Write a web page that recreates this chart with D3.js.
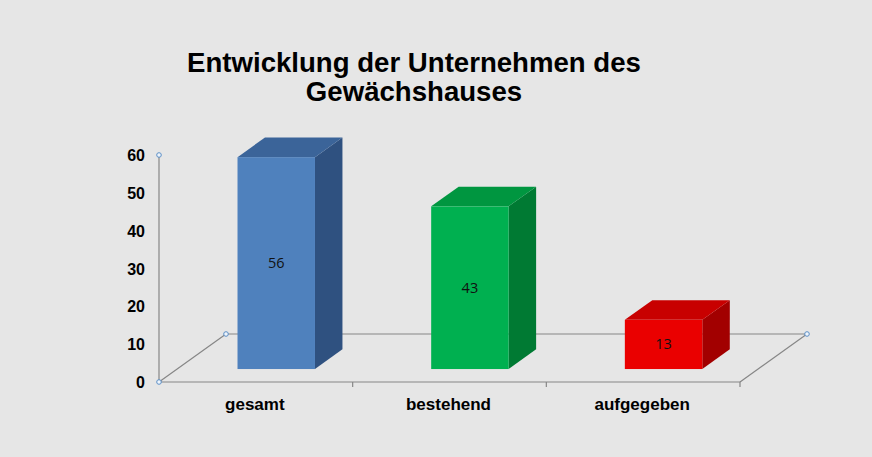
<!DOCTYPE html>
<html>
<head>
<meta charset="utf-8">
<script src="https://cdn.jsdelivr.net/npm/d3@7"></script>
<style>
  html, body { margin: 0; padding: 0; background: #e6e6e6; }
</style>
</head>
<body>
<div id="chart"></div>
<script>
// chart data
var categories = ["gesamt", "bestehend", "aufgegeben"];
var values = [56, 43, 13];
var tickValues = [0, 10, 20, 30, 40, 50, 60];
var titleLines = ["Entwicklung der Unternehmen des", "Gewächshauses"];
var faceColors = [
    {front: "#4f81bd", top: "#3b6499", side: "#2f5180"},
    {front: "#00b050", top: "#009640", side: "#007a33"},
    {front: "#ea0000", top: "#c80000", side: "#a20000"}
];

var width = 872, height = 457;
var svg = d3.select("#chart").append("svg")
    .attr("width", width)
    .attr("height", height)
    .style("display", "block");

svg.append("rect").attr("width", width).attr("height", height).attr("fill", "#e6e6e6");

// title
svg.append("g").selectAll("text")
    .data(titleLines)
    .enter().append("text")
    .attr("x", 414)
    .attr("y", function(d, i) { return 72 + i * 28.5; })
    .attr("text-anchor", "middle")
    .attr("font-family", "'Liberation Sans', Arial, sans-serif")
    .attr("font-weight", "bold")
    .attr("font-size", 27.6)
    .attr("fill", "#000")
    .text(function(d) { return d; });

// oblique 3D projection: z from 0 (front) to 1 (back wall)
var depthX = 67, depthY = -48;
var x = d3.scaleBand().domain(categories).range([159, 740])
    .paddingInner(0.6).paddingOuter(0.3).align(0.52);
var y = d3.scaleLinear().domain([0, 60]).range([382, 155]);
function px(xv, z) { return xv + z * depthX; }
function py(v, z) { return y(v) + z * depthY; }

var lineColor = "#868686";
var x0 = x.range()[0], x1 = x.range()[1];
var step = (x1 - x0) / categories.length;

// back floor edge
svg.append("line")
    .attr("x1", px(x0, 1)).attr("y1", py(0, 1))
    .attr("x2", px(x1, 1)).attr("y2", py(0, 1))
    .attr("stroke", lineColor).attr("stroke-width", 1.2);
// side floor edges
[x0, x1].forEach(function(xv) {
    svg.append("line")
        .attr("x1", px(xv, 0)).attr("y1", py(0, 0))
        .attr("x2", px(xv, 1)).attr("y2", py(0, 1))
        .attr("stroke", lineColor).attr("stroke-width", 1.2);
});
// front floor edge
svg.append("line")
    .attr("x1", x0).attr("y1", y(0))
    .attr("x2", x1).attr("y2", y(0))
    .attr("stroke", lineColor).attr("stroke-width", 1.2);
// category boundary ticks
svg.append("g").selectAll("line")
    .data(d3.range(1, categories.length + 1))
    .enter().append("line")
    .attr("x1", function(i) { return x0 + i * step; })
    .attr("x2", function(i) { return x0 + i * step; })
    .attr("y1", y(0)).attr("y2", y(0) + 5)
    .attr("stroke", lineColor).attr("stroke-width", 1.2);

// value axis
svg.append("line")
    .attr("x1", x0).attr("y1", y(0))
    .attr("x2", x0).attr("y2", y(60))
    .attr("stroke", lineColor).attr("stroke-width", 1.2);
svg.append("g").selectAll("text")
    .data(tickValues)
    .enter().append("text")
    .attr("x", 145)
    .attr("y", function(d) { return y(d) + 6; })
    .attr("text-anchor", "end")
    .attr("font-family", "'Liberation Sans', Arial, sans-serif")
    .attr("font-weight", "bold")
    .attr("font-size", 16)
    .attr("fill", "#000")
    .text(function(d) { return d; });

// bars
var zFront = 0.27, zBack = 0.68;
var bars = svg.append("g").selectAll("g")
    .data(values)
    .enter().append("g");
function poly(pts) { return "M" + pts.map(function(p) { return p.join(","); }).join("L") + "Z"; }
bars.append("path")
    .attr("d", function(d, i) {
        var l = x(categories[i]), r = l + x.bandwidth();
        return poly([[px(r, zFront), py(0, zFront)], [px(r, zBack), py(0, zBack)],
                     [px(r, zBack), py(d, zBack)], [px(r, zFront), py(d, zFront)]]);
    })
    .attr("fill", function(d, i) { return faceColors[i].side; });
bars.append("path")
    .attr("d", function(d, i) {
        var l = x(categories[i]), r = l + x.bandwidth();
        return poly([[px(l, zFront), py(d, zFront)], [px(r, zFront), py(d, zFront)],
                     [px(r, zBack), py(d, zBack)], [px(l, zBack), py(d, zBack)]]);
    })
    .attr("fill", function(d, i) { return faceColors[i].top; });
bars.append("rect")
    .attr("x", function(d, i) { return px(x(categories[i]), zFront); })
    .attr("y", function(d) { return py(d, zFront); })
    .attr("width", x.bandwidth())
    .attr("height", function(d) { return py(0, zFront) - py(d, zFront); })
    .attr("fill", function(d, i) { return faceColors[i].front; });
bars.append("text")
    .attr("x", function(d, i) { return px(x(categories[i]), zFront) + x.bandwidth() / 2; })
    .attr("y", function(d) { return (py(d, zFront) + py(0, zFront)) / 2 + 5; })
    .attr("text-anchor", "middle")
    .attr("font-family", "'Open Sans', 'Liberation Sans', sans-serif")
    .attr("font-size", 14.5)
    .attr("fill", "#111")
    .text(function(d) { return d; });

// category labels
svg.append("g").selectAll("text")
    .data(categories)
    .enter().append("text")
    .attr("x", function(d, i) { return x0 + (i + 0.5) * step - 1; })
    .attr("y", 410)
    .attr("text-anchor", "middle")
    .attr("font-family", "'Liberation Sans', Arial, sans-serif")
    .attr("font-weight", "bold")
    .attr("font-size", 17)
    .attr("fill", "#000")
    .text(function(d) { return d; });

// selection handles
var handles = [[x0, y(60)], [x0, y(0)], [px(x0, 1), py(0, 1)], [px(x1, 1), py(0, 1)]];
svg.append("g").selectAll("circle")
    .data(handles)
    .enter().append("circle")
    .attr("cx", function(d) { return d[0]; })
    .attr("cy", function(d) { return d[1]; })
    .attr("r", 2.3)
    .attr("fill", "#eef4fb")
    .attr("stroke", "#5b8fc7")
    .attr("stroke-width", 1);
</script>
</body>
</html>
